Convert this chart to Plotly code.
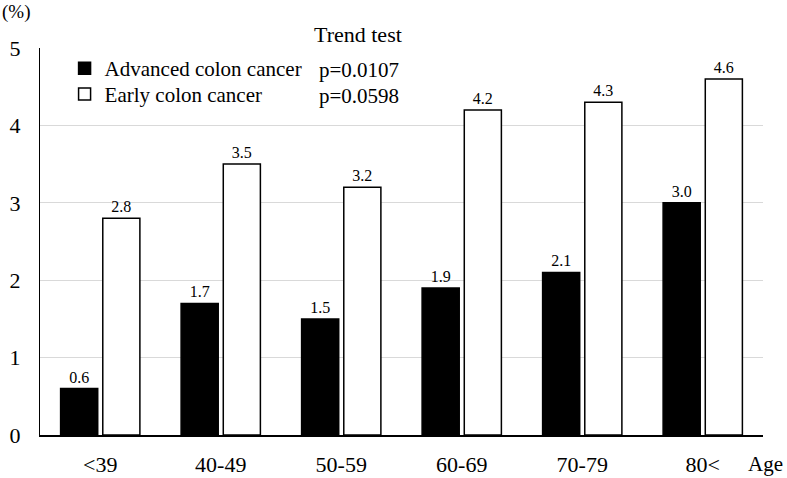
import plotly.graph_objects as go

categories = ["<39", "40-49", "50-59", "60-69", "70-79", "80<"]
advanced = [0.6, 1.7, 1.5, 1.9, 2.1, 3.0]
early = [2.8, 3.5, 3.2, 4.2, 4.3, 4.6]
series_names = ["Advanced colon cancer", "Early colon cancer"]
p_values = ["p=0.0107", "p=0.0598"]
y_ticks = [0, 1, 2, 3, 4, 5]

FONT = "Liberation Serif, Times New Roman, serif"

fig = go.Figure()
fig.add_trace(go.Bar(
    x=categories, y=advanced, name=series_names[0], legend="legend",
    marker=dict(color="black", line=dict(color="black", width=1.5)),
    text=[f"{v:.1f}" for v in advanced], textposition="outside",
    textfont=dict(family=FONT, size=16, color="black"), cliponaxis=False,
))
fig.add_trace(go.Bar(
    x=categories, y=early, name=series_names[1], legend="legend2",
    marker=dict(color="white", line=dict(color="black", width=1.5)),
    text=[f"{v:.1f}" for v in early], textposition="outside",
    textfont=dict(family=FONT, size=16, color="black"), cliponaxis=False,
))

legend_common = dict(
    xanchor="left", yanchor="top", bgcolor="rgba(0,0,0,0)",
    font=dict(family=FONT, size=21, color="black"), itemwidth=30,
)

fig.update_layout(
    width=787, height=478,
    margin=dict(l=40, r=24, t=48, b=43, autoexpand=False),
    paper_bgcolor="white", plot_bgcolor="white",
    barmode="group", bargap=0.3, bargroupgap=0.12,
    font=dict(family=FONT, size=22, color="black"),
    showlegend=True,
    legend=dict(x=0.034, y=1.0, **legend_common),
    legend2=dict(x=0.034, y=0.933, **legend_common),
    xaxis=dict(
        automargin=False,
        showline=True, linecolor="black", linewidth=1.5,
        ticks="", ticklabelstandoff=9,
        tickfont=dict(family=FONT, size=22, color="black"),
    ),
    yaxis=dict(
        automargin=False,
        range=[0, 5], tickvals=y_ticks,
        showline=True, linecolor="black", linewidth=1.2,
        showgrid=True, gridcolor="#d9d9d9", gridwidth=1,
        zeroline=False, ticks="", ticklabelstandoff=14,
        tickfont=dict(family=FONT, size=22, color="black"),
    ),
    annotations=[
        dict(text="(%)", xref="paper", yref="paper", x=-0.0553, y=1.093,
             xanchor="left", yanchor="middle", showarrow=False,
             font=dict(family=FONT, size=19, color="black")),
        dict(text="Trend test", xref="paper", yref="paper", x=0.44, y=1.034,
             xanchor="center", yanchor="middle", showarrow=False,
             font=dict(family=FONT, size=22, color="black")),
        dict(text=p_values[0], xref="paper", yref="paper", x=0.383, y=0.943,
             xanchor="left", yanchor="middle", showarrow=False,
             font=dict(family=FONT, size=21, color="black")),
        dict(text=p_values[1], xref="paper", yref="paper", x=0.383, y=0.876,
             xanchor="left", yanchor="middle", showarrow=False,
             font=dict(family=FONT, size=21, color="black")),
        dict(text="Age", xref="paper", yref="paper", x=1.03, y=-0.075,
             xanchor="right", yanchor="middle", showarrow=False,
             font=dict(family=FONT, size=21, color="black")),
    ],
)

fig.write_html(
    "out.html",
    config={"displayModeBar": False},
    post_script="document.body.style.margin='0';document.body.style.overflow='hidden';",
)
